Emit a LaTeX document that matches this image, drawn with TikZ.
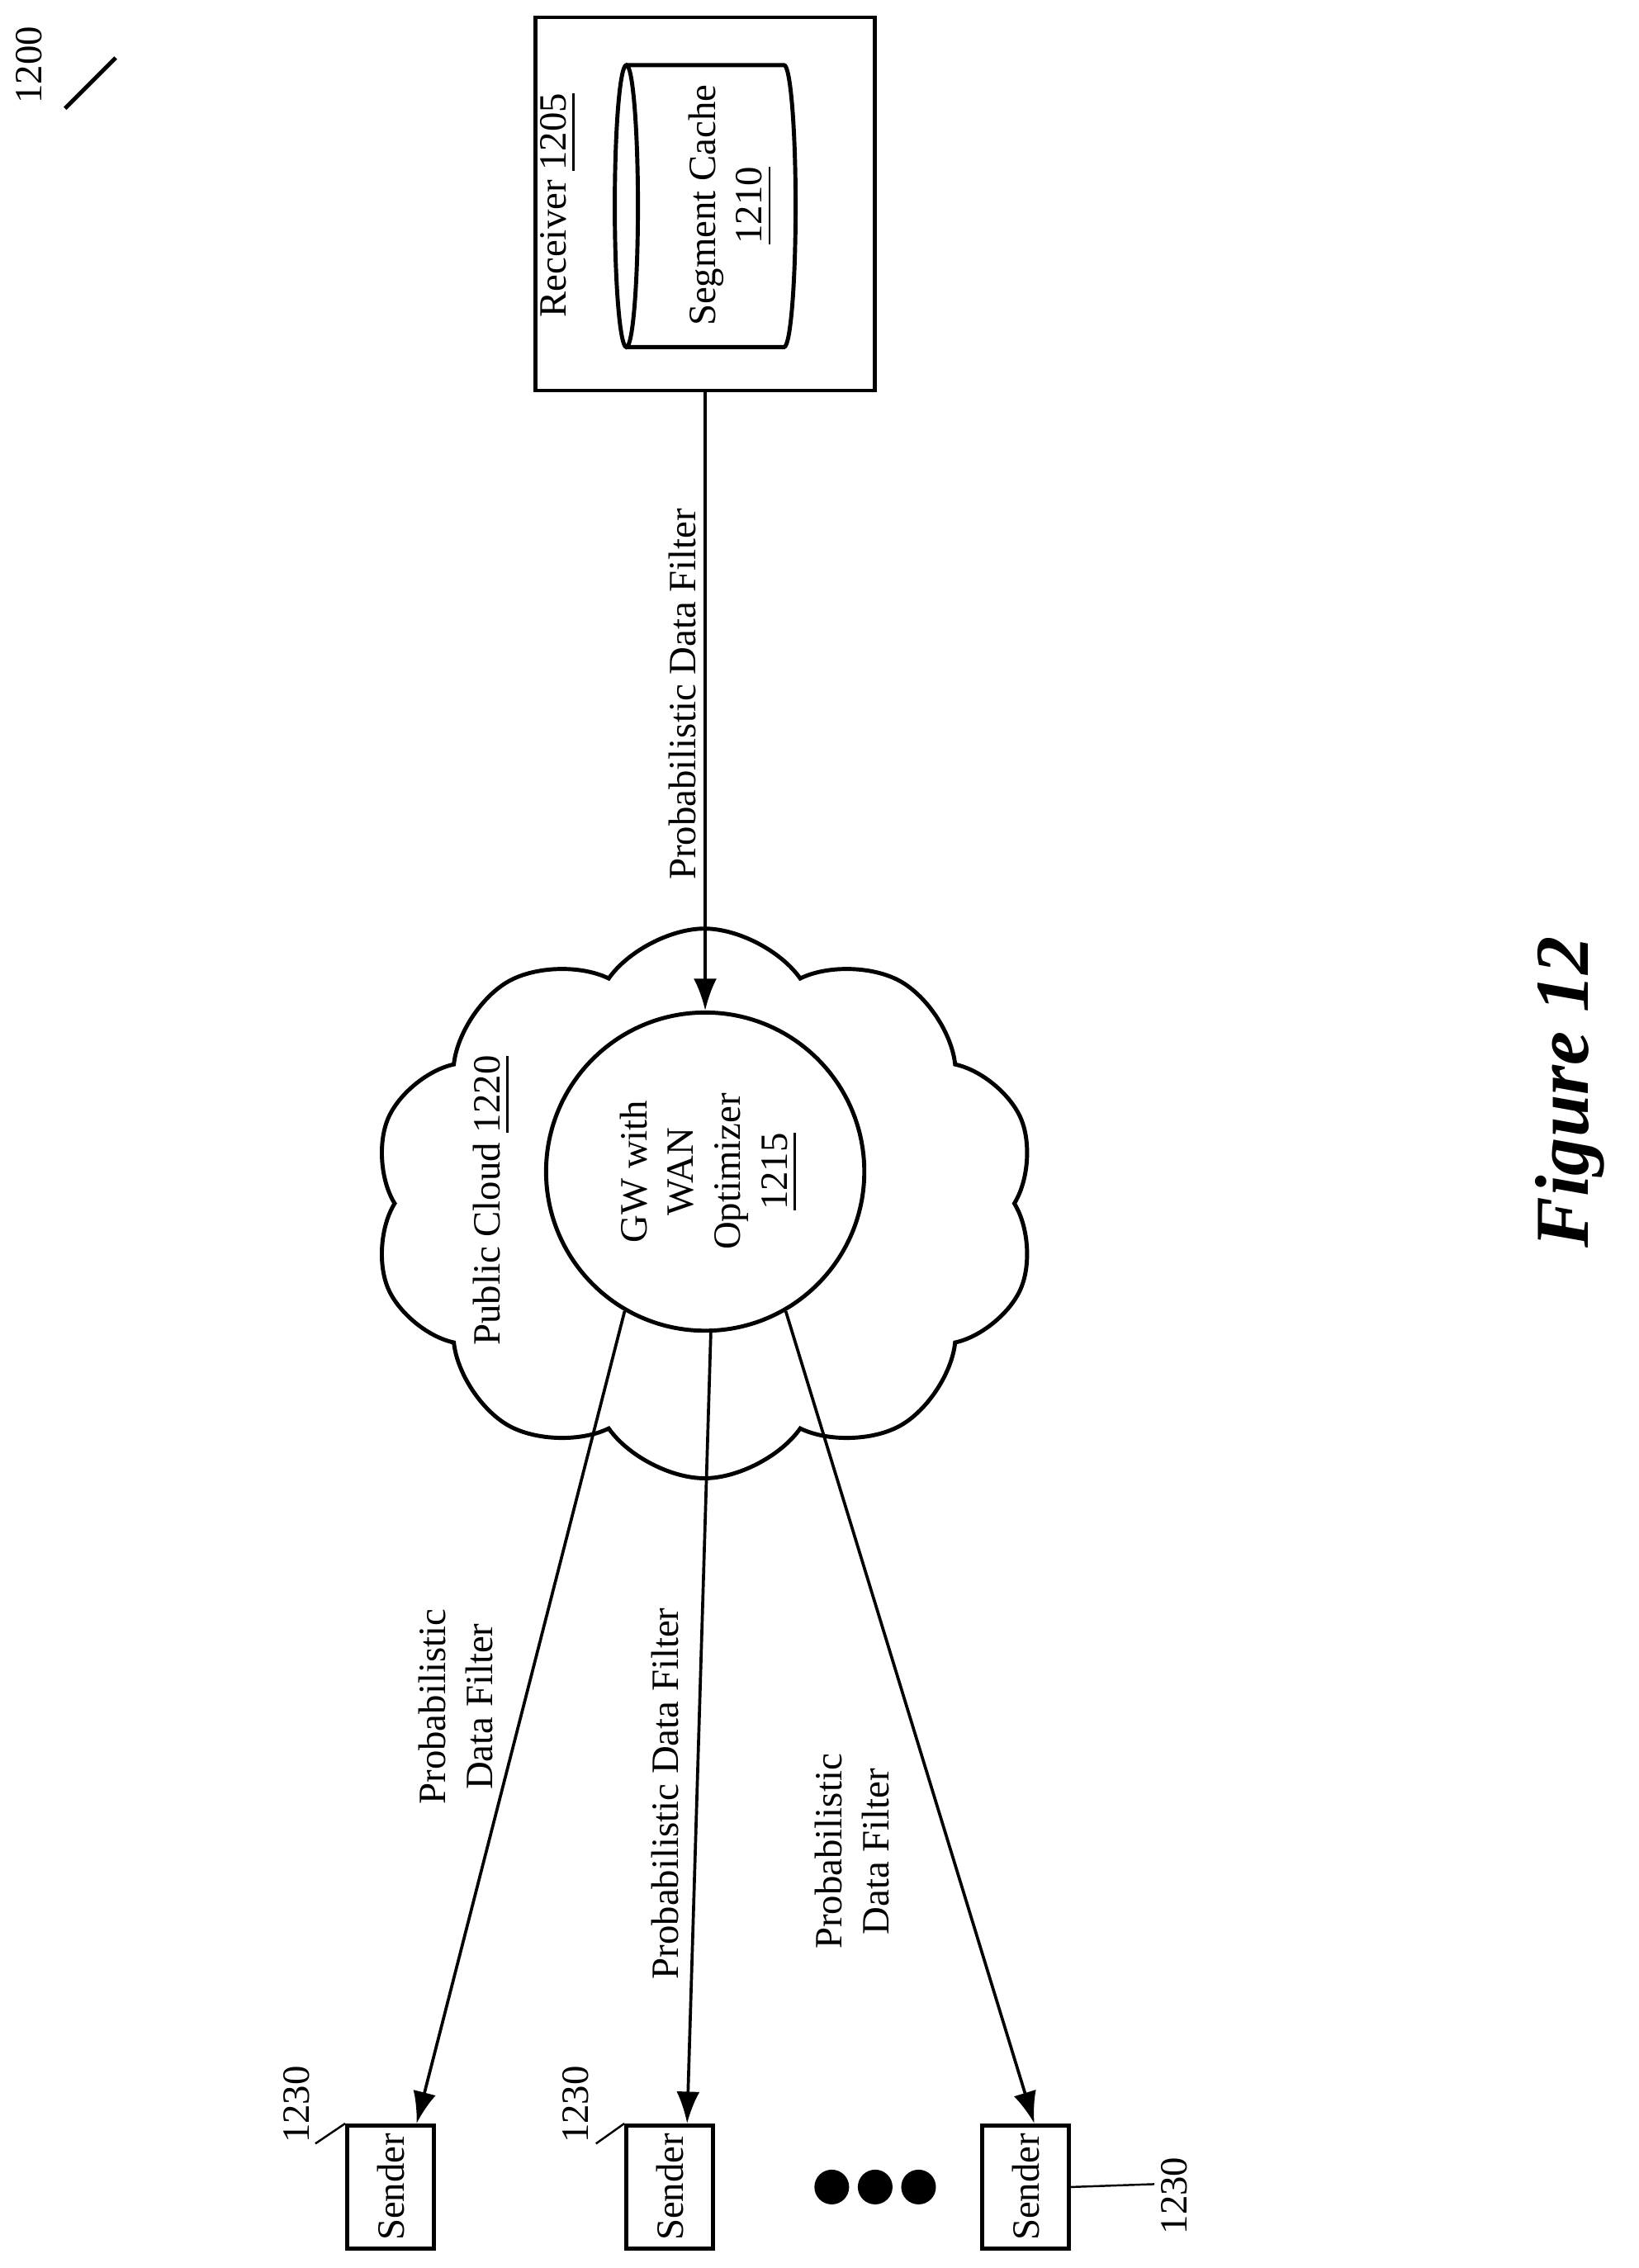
\documentclass[tikz,border=0pt]{standalone}
\usepackage{fontspec}
\setmainfont{Liberation Serif}
\usetikzlibrary{arrows.meta,positioning,calc,shapes.geometric,shapes.symbols}
\begin{document}
\begin{tikzpicture}[
  lbl/.style={rotate=90, font=\fontsize{7.6}{9.2}\selectfont, align=center, inner sep=0pt},
  box/.style={draw, line width=0.8pt},
  arr/.style={-{Latex[length=2.2mm,width=1.6mm]}, line width=0.6pt}
]
  \useasboundingbox (0,0) rectangle (11.33,-15.68);

  % Receiver with segment cache
  \node[box, minimum width=2.35cm, minimum height=2.58cm] (recv) at (4.875,-1.41) {};
  \draw[line width=0.8pt] (4.33,-1.425) ellipse (0.08 and 0.975);
  \draw[line width=0.8pt] (4.33,-0.45) -- (5.42,-0.45)
    arc[start angle=90, end angle=-90, x radius=0.08, y radius=0.975] -- (4.33,-2.4);
  \node[lbl] (recvtxt) at (3.86,-1.42) {Receiver \underline{1205}};
  \node[lbl] (cachetxt) at (5.05,-1.42) {Segment Cache\\\underline{1210}};

  % Public cloud with gateway
  \node[cloud, draw, line width=0.8pt, cloud puffs=10, cloud puff arc=110,
        minimum width=4.6cm, minimum height=3.8cm] (cloud) at (4.87,-8.32) {};
  \node[circle, draw, line width=0.8pt, minimum size=2.2cm] (gw) at (4.875,-8.1) {};
  \node[lbl] (gwtxt) at (4.9,-8.1) {GW with\\WAN\\Optimizer\\\underline{1215}};
  \node[lbl] (cloudtxt) at (3.4,-8.3) {Public Cloud \underline{1220}};

  % Senders
  \node[box, minimum width=0.6cm, minimum height=0.85cm] (snd1) at (2.70,-15.12) {};
  \node[box, minimum width=0.6cm, minimum height=0.85cm] (snd2) at (4.63,-15.12) {};
  \node[box, minimum width=0.6cm, minimum height=0.85cm] (snd3) at (7.09,-15.12) {};
  \foreach \s in {snd1,snd2,snd3}
    \node[lbl] at (\s) {Sender};

  % Reference numerals
  \node[lbl] (n1) at (2.05,-14.55) {1230};
  \node[lbl] (n2) at (3.98,-14.55) {1230};
  \node[lbl] (n3) at (8.12,-15.18) {1230};
  \draw (2.18,-14.82) -- (snd1.north west);
  \draw (4.12,-14.82) -- (snd2.north west);
  \draw (7.98,-15.10) -- (snd3.east);
  \node[lbl] (n0) at (0.2,-0.45) {1200};
  \draw[line width=0.8pt] (0.45,-0.75) -- (0.8,-0.4);

  \foreach \x in {5.75,6.05,6.35}
    \fill (\x,-15.12) circle (0.12);

  % Connectors
  \draw[arr] (recv.south) -- (gw.north);
  \draw[arr] (gw.240) -- ($(snd1.north)+(0.18,0)$);
  \draw[arr] (gw.272) -- ($(snd2.north)+(0.12,0)$);
  \draw[arr] (gw.300) -- ($(snd3.north)+(0.06,0)$);

  % Filter labels
  \node[lbl] (f0) at (4.72,-4.8) {Probabilistic Data Filter};
  \node[lbl] (f1) at (3.15,-11.8) {Probabilistic\\Data Filter};
  \node[lbl] (f2) at (4.6,-12.4) {Probabilistic Data Filter};
  \node[lbl] (f3) at (5.89,-12.8) {Probabilistic\\Data Filter};

  \node[rotate=90, font=\fontsize{15}{18}\selectfont\bfseries\itshape] (fig) at (10.85,-7.55) {Figure 12};
\end{tikzpicture}
\end{document}
